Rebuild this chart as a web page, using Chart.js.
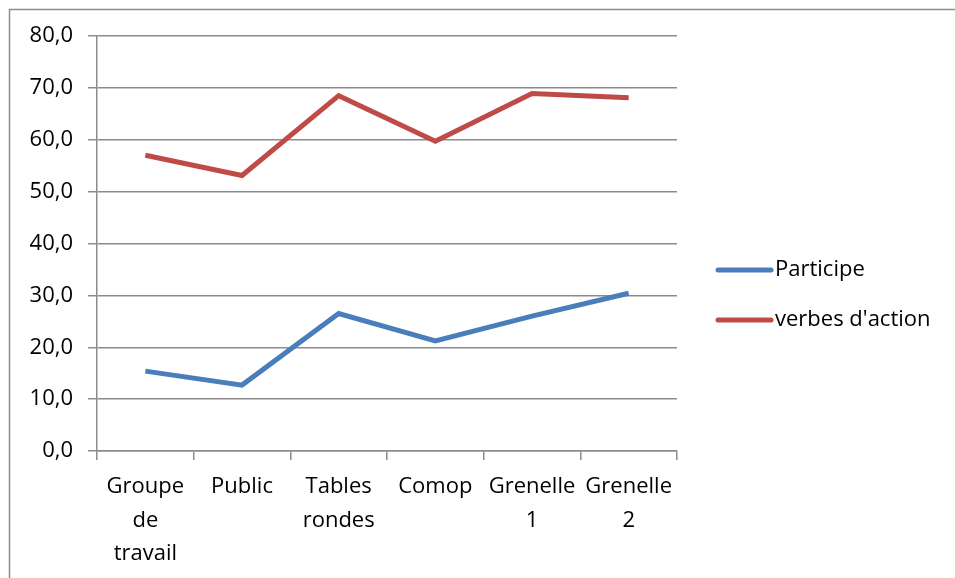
<!DOCTYPE html>
<html>
<head>
<meta charset="utf-8">
<script src="https://cdn.jsdelivr.net/npm/chart.js@4/dist/chart.umd.min.js"></script>
<style>
  html, body { margin: 0; padding: 0; background: #fff; }
  #wrap { width: 955px; height: 578px; position: relative; }
</style>
</head>
<body>
<div id="wrap"><canvas id="myChart" width="955" height="578"></canvas></div>
<script>
// Categories and series
const categories = [
  ["Groupe", "de", "travail"],
  ["Public"],
  ["Tables", "rondes"],
  ["Comop"],
  ["Grenelle", "1"],
  ["Grenelle", "2"]
];
const participe = [15.4, 12.7, 26.5, 21.2, 26.0, 30.4];
const verbesAction = [57.0, 53.1, 68.5, 59.7, 68.9, 68.1];
const yTicks = [0, 10, 20, 30, 40, 50, 60, 70, 80];

const FONT = "'Open Sans', Lato, sans-serif";
const FONT_SIZE = 22;
const gridColor = "#8c8c8c";

// Outer frame and right-hand legend, like the spreadsheet chart
const framePlugin = {
  id: "frame",
  beforeDraw(chart) {
    const c = chart.ctx;
    c.save();
    c.strokeStyle = "#8c8c8c";
    c.lineWidth = 1.5;
    c.strokeRect(9.5, 9.5, 1100, 1100);
    c.restore();
  },
  afterDraw(chart) {
    const c = chart.ctx;
    c.save();
    c.font = FONT_SIZE + "px " + FONT;
    c.textBaseline = "middle";
    c.lineCap = "round";
    chart.data.datasets.forEach((ds, i) => {
      const y = 270 + i * 50;
      c.strokeStyle = ds.borderColor;
      c.lineWidth = 5;
      c.beginPath();
      c.moveTo(718, y);
      c.lineTo(771, y);
      c.stroke();
      c.fillStyle = "#000";
      c.fillText(ds.label, 775, y);
    });
    c.restore();
  }
};

new Chart(document.getElementById("myChart"), {
  type: "line",
  data: {
    labels: categories,
    datasets: [{
      label: "Participe",
      data: participe,
      borderColor: "#4a7ebb",
      borderWidth: 5,
      pointRadius: 0,
      tension: 0
    }, {
      label: "verbes d'action",
      data: verbesAction,
      borderColor: "#be4b48",
      borderWidth: 5,
      pointRadius: 0,
      tension: 0
    }]
  },
  options: {
    responsive: false,
    animation: false,
    layout: { padding: { left: 0, top: 36, right: 278, bottom: 0 } },
    plugins: { legend: { display: false }, tooltip: { enabled: false } },
    scales: {
      x: {
        offset: true,
        grid: { offset: true, drawOnChartArea: false, drawTicks: true, tickLength: 9, color: gridColor, lineWidth: 1.5 },
        border: { color: gridColor, width: 1.5 },
        ticks: {
          color: "#000",
          font: { family: FONT, size: FONT_SIZE, lineHeight: 1.53 },
          padding: 10,
          maxRotation: 0,
          autoSkip: false
        },
        afterFit(scale) { scale.height = 127; }
      },
      y: {
        min: 0,
        max: 80,
        afterBuildTicks(scale) { scale.ticks = yTicks.map(v => ({ value: v })); },
        grid: { color: gridColor, lineWidth: 1.5, tickLength: 9 },
        border: { color: gridColor, width: 1.5 },
        ticks: {
          color: "#000",
          font: { family: FONT, size: FONT_SIZE },
          padding: 15,
          callback: v => v.toFixed(1).replace(".", ",")
        },
        afterFit(scale) { scale.width = 97; }
      }
    }
  },
  plugins: [framePlugin]
});
</script>
</body>
</html>
